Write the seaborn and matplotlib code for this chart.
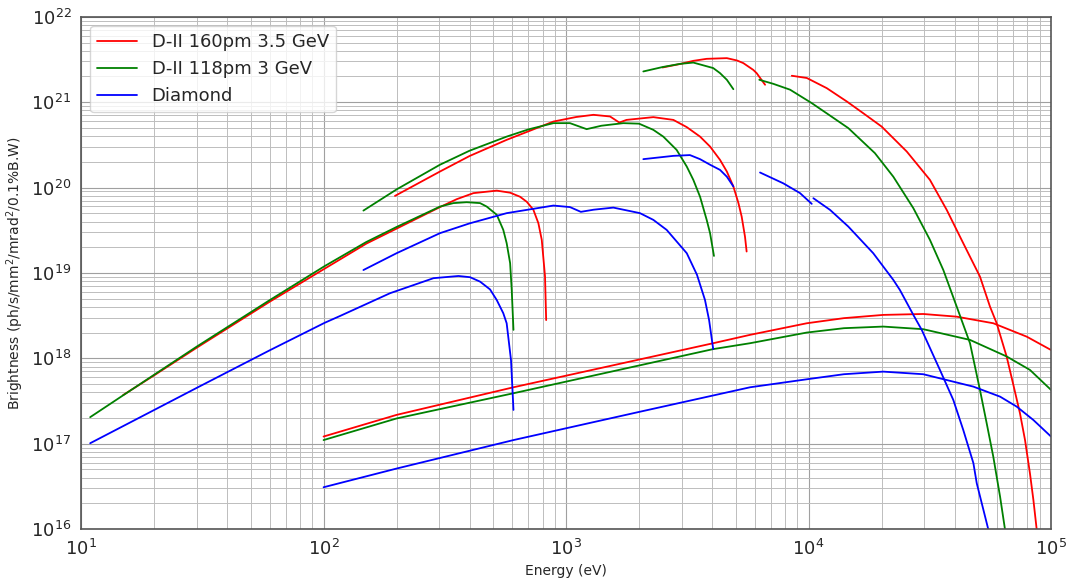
import numpy as np
import pandas as pd
import seaborn as sns
import matplotlib
matplotlib.use("Agg")
import matplotlib.pyplot as plt

# --- D-II 160pm 3.5 GeV (red) ---
red_h1_e = [14.9, 20, 30, 60, 101, 150, 200, 302, 354, 415, 518, 588, 646, 689, 733, 769, 794, 819, 828]
red_h1_b = [3.7e17, 6.3e17, 1.33e18, 4.6e18, 1.12e19, 2.2e19, 3.3e19, 5.9e19, 7.3e19, 8.6e19, 9.2e19, 8.7e19,
            7.8e19, 6.8e19, 5.5e19, 3.82e19, 2.44e19, 9.1e18, 2.8e18]
red_h3_e = [197, 302, 400, 569, 887, 1100, 1297, 1519, 1659, 1775, 2291, 2771, 3147, 3570, 3926, 4315, 4604,
            4898, 5140, 5300, 5470, 5556]
red_h3_b = [7.98e19, 1.54e20, 2.34e20, 3.62e20, 5.93e20, 6.7e20, 7.11e20, 6.8e20, 5.77e20, 6.2e20, 6.68e20,
            6.2e20, 5.1e20, 3.95e20, 3.02e20, 2.11e20, 1.54e20, 1.03e20, 6.57e19, 4.57e19, 2.66e19, 1.78e19]
red_h5_e = [2500, 2951, 3349, 3802, 4604, 5070, 5383, 5916, 6109, 6620]
red_h5_b = [2.55e21, 2.8e21, 3.05e21, 3.22e21, 3.28e21, 3.08e21, 2.87e21, 2.39e21, 2.19e21, 1.6e21]
red_hx_e = [8531, 9840, 11890, 13490, 14380, 16840, 20020, 25420, 31670, 37150, 43450, 50930, 56020, 59700,
            65600, 69960, 74470, 78150, 81880, 84600, 87260, 90000]
red_hx_b = [2.04e21, 1.92e21, 1.46e21, 1.15e21, 1.02e21, 7.4e20, 5.18e20, 2.64e20, 1.23e20, 5.47e19, 2.23e19,
            9.06e18, 4.03e18, 2.57e18, 1.05e18, 4.87e17, 2.27e17, 1.1e17, 4.49e16, 2.19e16, 1e16, 5e15]
red_bm_e = [100, 200, 607, 4045, 5741, 9840, 14000, 20330, 29720, 40840, 57810, 79430, 100000]
red_bm_b = [1.21e17, 2.17e17, 4.57e17, 1.5e18, 1.88e18, 2.57e18, 2.95e18, 3.22e18, 3.3e18, 3.07e18, 2.57e18,
            1.79e18, 1.25e18]

# --- D-II 118pm 3 GeV (green) ---
green_h1_e = [10.9, 20, 30, 60, 101, 150, 200, 302, 343, 389, 442, 471, 518, 551, 569, 588, 597, 607]
green_h1_b = [2.04e17, 6.4e17, 1.37e18, 4.8e18, 1.2e19, 2.3e19, 3.45e19, 5.98e19, 6.57e19, 6.73e19, 6.57e19,
              5.98e19, 4.79e19, 3.19e19, 2.23e19, 1.3e19, 6.3e18, 2.15e18]
green_h3_e = [146, 200, 302, 400, 569, 700, 887, 1038, 1216, 1400, 1722, 2000, 2291, 2518, 2858, 3147, 3349,
              3570, 3802, 3926, 4074]
green_h3_b = [5.37e19, 9.5e19, 1.85e20, 2.7e20, 3.95e20, 4.8e20, 5.68e20, 5.68e20, 4.83e20, 5.3e20, 5.68e20,
              5.6e20, 4.74e20, 3.95e20, 2.76e20, 1.76e20, 1.23e20, 7.8e19, 4.18e19, 2.92e19, 1.58e19]
green_h5_e = [2083, 2500, 2951, 3349, 4045, 4315, 4604, 4898]
green_h5_b = [2.29e21, 2.58e21, 2.81e21, 2.91e21, 2.51e21, 2.19e21, 1.83e21, 1.42e21]
green_hx_e = [6266, 7160, 8395, 10310, 11890, 14590, 18780, 22370, 27060, 31670, 35970, 40840, 46340, 50930,
              54300, 57810, 61660, 64570, 66000]
green_hx_b = [1.83e21, 1.64e21, 1.4e21, 9.75e20, 7.4e20, 4.97e20, 2.53e20, 1.34e20, 5.73e19, 2.44e19, 1.08e19,
              4.03e18, 1.5e18, 4.26e17, 1.73e17, 7.03e16, 2.39e16, 1e16, 6e15]
green_bm_e = [100, 200, 607, 4045, 5741, 9840, 14000, 20330, 29720, 46340, 65600, 81880, 100000]
green_bm_b = [1.10e17, 1.97e17, 3.89e17, 1.28e18, 1.5e18, 2.0e18, 2.25e18, 2.35e18, 2.19e18, 1.64e18, 1.05e18,
              7.3e17, 4.26e17]

# --- Diamond (blue) ---
blue_h1_e = [10.9, 30, 60, 101, 117, 188, 284, 360, 402, 442, 486, 518, 551, 569, 593, 607]
blue_h1_b = [1.01e17, 4.5e17, 1.24e18, 2.6e18, 3.13e18, 5.78e18, 8.67e18, 9.2e18, 8.9e18, 7.9e18, 6.4e18,
             4.8e18, 3.37e18, 2.57e18, 9.5e17, 2.48e17]
blue_h3_e = [146, 200, 302, 400, 569, 887, 1038, 1151, 1300, 1567, 2018, 2291, 2600, 3147, 3467, 3741, 3890, 4045]
blue_h3_b = [1.08e19, 1.7e19, 2.92e19, 3.8e19, 5.01e19, 6.15e19, 5.9e19, 5.19e19, 5.5e19, 5.82e19, 5.01e19,
             4.18e19, 3.19e19, 1.7e19, 9.5e18, 4.82e18, 2.8e18, 1.28e18]
blue_h5_e = [2083, 2771, 3243, 3570, 3926, 4315, 4604, 4898]
blue_h5_b = [2.15e20, 2.35e20, 2.4e20, 2.15e20, 1.85e20, 1.61e20, 1.34e20, 1.03e20]
blue_h7_e = [6310, 7870, 9226, 10310]
blue_h7_b = [1.5e20, 1.12e20, 8.6e19, 6.44e19]
blue_hx_e = [10470, 12270, 14590, 18490, 22370, 23820, 27060, 29300, 34830, 39540, 43450, 47860, 49410, 55080, 56500]
blue_hx_b = [7.5e19, 5.47e19, 3.49e19, 1.7e19, 8.28e18, 6.3e18, 3.22e18, 2.15e18, 7.3e17, 3.25e17, 1.45e17,
             5.9e16, 3.43e16, 1e16, 7e15]
blue_bm_e = [100, 200, 607, 2000, 5741, 9840, 14000, 20330, 29720, 47860, 61660, 72240, 84600, 100000]
blue_bm_b = [3.08e16, 5.1e16, 1.10e17, 2.35e17, 4.57e17, 5.67e17, 6.5e17, 6.97e17, 6.5e17, 4.65e17, 3.55e17,
             2.71e17, 1.89e17, 1.21e17]

sources = ["D-II 160pm 3.5 GeV", "D-II 118pm 3 GeV", "Diamond"]
palette = {"D-II 160pm 3.5 GeV": "red", "D-II 118pm 3 GeV": "green", "Diamond": "blue"}

segments = [
    (sources[0], "r1", red_h1_e, red_h1_b),
    (sources[0], "r3", red_h3_e, red_h3_b),
    (sources[0], "r5", red_h5_e, red_h5_b),
    (sources[0], "rx", red_hx_e, red_hx_b),
    (sources[0], "rb", red_bm_e, red_bm_b),
    (sources[1], "g1", green_h1_e, green_h1_b),
    (sources[1], "g3", green_h3_e, green_h3_b),
    (sources[1], "g5", green_h5_e, green_h5_b),
    (sources[1], "gx", green_hx_e, green_hx_b),
    (sources[1], "gb", green_bm_e, green_bm_b),
    (sources[2], "b1", blue_h1_e, blue_h1_b),
    (sources[2], "b3", blue_h3_e, blue_h3_b),
    (sources[2], "b5", blue_h5_e, blue_h5_b),
    (sources[2], "b7", blue_h7_e, blue_h7_b),
    (sources[2], "bx", blue_hx_e, blue_hx_b),
    (sources[2], "bb", blue_bm_e, blue_bm_b),
]

df = pd.concat(
    [pd.DataFrame({"Energy": e, "Brightness": b, "Source": src, "Segment": seg})
     for src, seg, e, b in segments],
    ignore_index=True,
)

sns.set_style("white")
fig = plt.figure(figsize=(10.67, 5.8), dpi=100)
ax = fig.add_axes([0.076, 0.088, 0.909, 0.883])

sns.lineplot(data=df, x="Energy", y="Brightness", hue="Source", hue_order=sources,
             units="Segment", estimator=None, sort=False, palette=palette,
             linewidth=1.3, ax=ax)

ax.set_xscale("log")
ax.set_yscale("log")
ax.set_xlim(10, 1e5)
ax.set_ylim(1e16, 1e22)

ax.grid(which="major", color="#a0a0a0", linewidth=0.8)
ax.grid(which="minor", color="#bdbdbd", linewidth=0.7)
ax.set_axisbelow(True)
for s in ax.spines.values():
    s.set_color("#555555")
    s.set_linewidth(1.2)

ax.tick_params(axis="both", which="major", labelsize=13)
ax.set_xlabel("Energy (eV)", fontsize=10)
ax.set_ylabel("Brightness (ph/s/mm$^2$/mrad$^2$/0.1%B.W)", fontsize=10)

handles, labels = ax.get_legend_handles_labels()
ax.legend(handles, labels, loc="upper left", fontsize=13, frameon=True,
          handlelength=2.2)

fig.savefig("out.png", dpi=100)
